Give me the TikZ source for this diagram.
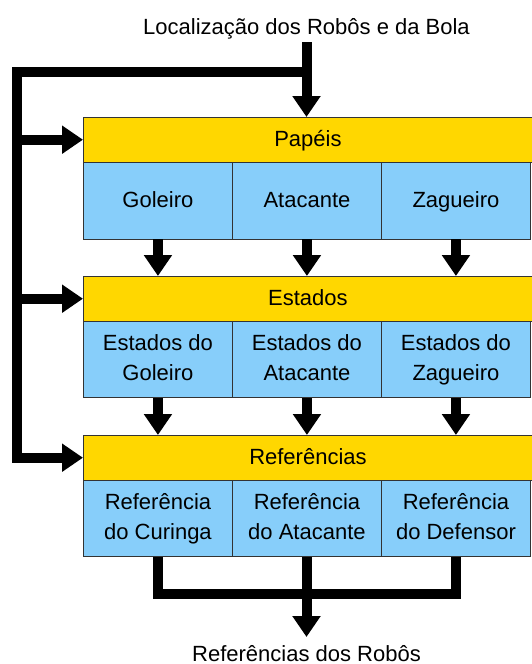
\documentclass[tikz,border=0pt]{standalone}
\usepackage{fontspec}
\setmainfont{Liberation Sans}
\usetikzlibrary{arrows.meta}
\definecolor{hdrcol}{RGB}{255,215,0}
\definecolor{cellcol}{RGB}{135,206,250}
\newcommand\lnstrut{\rule[-6pt]{0pt}{25pt}}
\begin{document}
\begin{tikzpicture}[x=1pt,y=-1pt,
  txt/.style={font=\fontsize{22}{30}\selectfont},
  hdr/.style={txt, draw=black!80, fill=hdrcol, line width=0.9pt, minimum width=449pt, minimum height=44.5pt, anchor=north west, inner sep=0pt},
  cellbox/.style={txt, draw=black!80, fill=cellcol, line width=0.9pt, minimum width=149pt, minimum height=76.5pt, anchor=north west, inner sep=0pt, align=center},
  flow/.style={line width=10pt, line join=miter, -{Triangle[width=27pt,length=21pt]}},
  bar/.style={line width=10pt, line join=miter},
  lbl/.style={txt, inner sep=0pt, anchor=base}]
\useasboundingbox (0,0) rectangle (531,664);

% top label
\node[lbl] (inp) at (306.5,34) {Localização dos Robôs e da Bola};

% Papéis
\node[hdr] (p) at (83,117) {Papéis\lnstrut};
\node[cellbox] (p1) at (83,162) {Goleiro\lnstrut};
\node[cellbox] (p2) at (232,162) {Atacante\lnstrut};
\node[cellbox] (p3) at (381,162) {Zagueiro\lnstrut};

% Estados
\node[hdr] (e) at (83,276) {Estados\lnstrut};
\node[cellbox] (e1) at (83,320.5) {Estados do\lnstrut\\Goleiro\lnstrut};
\node[cellbox] (e2) at (232,320.5) {Estados do\lnstrut\\Atacante\lnstrut};
\node[cellbox] (e3) at (381,320.5) {Estados do\lnstrut\\Zagueiro\lnstrut};

% Referências
\node[hdr] (r) at (83,435) {Referências\lnstrut};
\node[cellbox] (r1) at (83,479.5) {Referência\lnstrut\\do Curinga\lnstrut};
\node[cellbox] (r2) at (232,479.5) {Referência\lnstrut\\do Atacante\lnstrut};
\node[cellbox] (r3) at (381,479.5) {Referência\lnstrut\\do Defensor\lnstrut};

% bottom label
\node[lbl] (outp) at (306.5,661) {Referências dos Robôs};

% coordinates
\coordinate (src) at (306.5,42);
\coordinate (split) at (306.5,72);
\coordinate (corner) at (17,72);
\coordinate (merge) at (306.5,594);
\coordinate (sink) at (306.5,637);

% input arrow
\draw[flow] (src) -- (src |- p.north);
% feedback line to the left
\draw[flow] (split) -- (corner) -- (corner |- r.west) -- (r.west);
\draw[flow] (corner |- p.west) -- (p.west);
\draw[flow] (corner |- e.west) -- (e.west);

% between rows
\draw[flow] (p1.south) -- (p1.south |- e.north);
\draw[flow] (p2.south) -- (p2.south |- e.north);
\draw[flow] (p3.south) -- (p3.south |- e.north);
\draw[flow] (e1.south) -- (e1.south |- r.north);
\draw[flow] (e2.south) -- (e2.south |- r.north);
\draw[flow] (e3.south) -- (e3.south |- r.north);

% output merge
\draw[bar] (r1.south) -- (r1.south |- merge) -- (r3.south |- merge) -- (r3.south);
\draw[bar] (r2.south) -- (r2.south |- merge);
\draw[flow] (merge) -- (sink);
\end{tikzpicture}
\end{document}
